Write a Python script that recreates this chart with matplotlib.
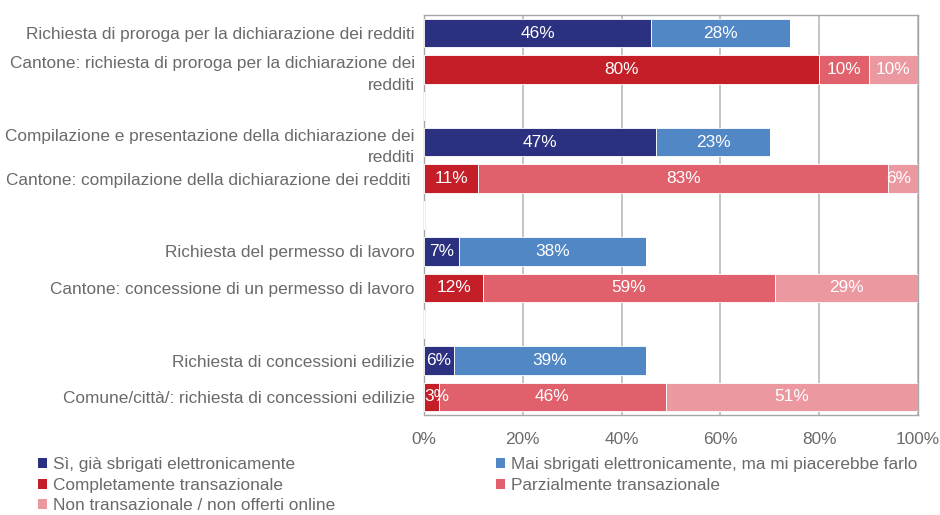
import matplotlib
matplotlib.use("Agg")
import matplotlib.pyplot as plt
from matplotlib.patches import Patch
import numpy as np

plt.rcParams['font.family'] = ['Liberation Sans', 'DejaVu Sans']

# Categories (None = empty spacer row)
categories = [
    "Richiesta di proroga per la dichiarazione dei redditi",
    "Cantone: richiesta di proroga per la dichiarazione dei\nredditi",
    None,
    "Compilazione e presentazione della dichiarazione dei\nredditi",
    "Cantone: compilazione della dichiarazione dei redditi ",
    None,
    "Richiesta del permesso di lavoro",
    "Cantone: concessione di un permesso di lavoro",
    None,
    "Richiesta di concessioni edilizie",
    "Comune/città/: richiesta di concessioni edilizie",
]

series_names = [
    "Sì, già sbrigati elettronicamente",
    "Mai sbrigati elettronicamente, ma mi piacerebbe farlo",
    "Completamente transazionale",
    "Parzialmente transazionale",
    "Non transazionale / non offerti online",
]
colors = ["#2B3080", "#5287C6", "#C41F28", "#E0616C", "#EB98A0"]

si_gia = [46, 0, 0, 47, 0, 0, 7, 0, 0, 6, 0]
mai_sbrigati = [28, 0, 0, 23, 0, 0, 38, 0, 0, 39, 0]
completamente = [0, 80, 0, 0, 11, 0, 0, 12, 0, 0, 3]
parzialmente = [0, 10, 0, 0, 83, 0, 0, 59, 0, 0, 46]
non_trans = [0, 10, 0, 0, 6, 0, 0, 29, 0, 0, 51]

series = [si_gia, mai_sbrigati, completamente, parzialmente, non_trans]
xticks = [0, 20, 40, 60, 80, 100]

TXT = '#6A6A6A'
FS = 12.4

fig = plt.figure(figsize=(9.4, 5.15), dpi=100)
ax = fig.add_axes([0.451, 0.194, 0.5256, 0.777])

y = np.arange(len(categories))
left = np.zeros(len(categories))
for vals, col in zip(series, colors):
    vals = np.array(vals, dtype=float)
    ax.barh(y, vals, left=left, height=0.78, color=col, edgecolor='white', linewidth=0.6, zorder=3)
    for yi, v, l in zip(y, vals, left):
        if v > 0:
            cx = l + v / 2
            cx = min(max(cx, 2.7), 96.0)
            ax.text(cx, yi, f"{int(v)}%", ha='center', va='center', color='white',
                    fontsize=FS, zorder=4)
    left += vals

ax.set_xlim(0, 100)
ax.set_ylim(len(categories) - 0.5, -0.5)
ax.set_xticks(xticks)
ax.set_xticklabels([f"{t}%" for t in xticks], color=TXT, fontsize=FS)
ax.set_yticks([i for i, c in enumerate(categories) if c is not None])
ax.set_yticklabels([c for c in categories if c is not None], color=TXT, fontsize=FS,
                   linespacing=1.55)
ax.tick_params(axis='both', length=0)
ax.tick_params(axis='y', pad=6.5)
ax.tick_params(axis='x', pad=12)
ax.grid(axis='x', color='#BFBFBF', linewidth=1.3, zorder=0)
for s in ax.spines.values():
    s.set_color('#A6A6A6')
    s.set_linewidth(1.0)

order = [0, 2, 4, 1, 3]
handles = [Patch(facecolor=colors[i], edgecolor='none') for i in order]
labels = [series_names[i] for i in order]
fig.legend(handles, labels, ncol=2, loc='upper left', bbox_to_anchor=(0.04, 0.112),
           frameon=False, fontsize=FS, handlelength=0.55, handleheight=0.55,
           handletextpad=0.35, labelspacing=0.32, columnspacing=9.3,
           labelcolor=TXT, borderaxespad=0, borderpad=0)

fig.savefig("out.png", dpi=100)
